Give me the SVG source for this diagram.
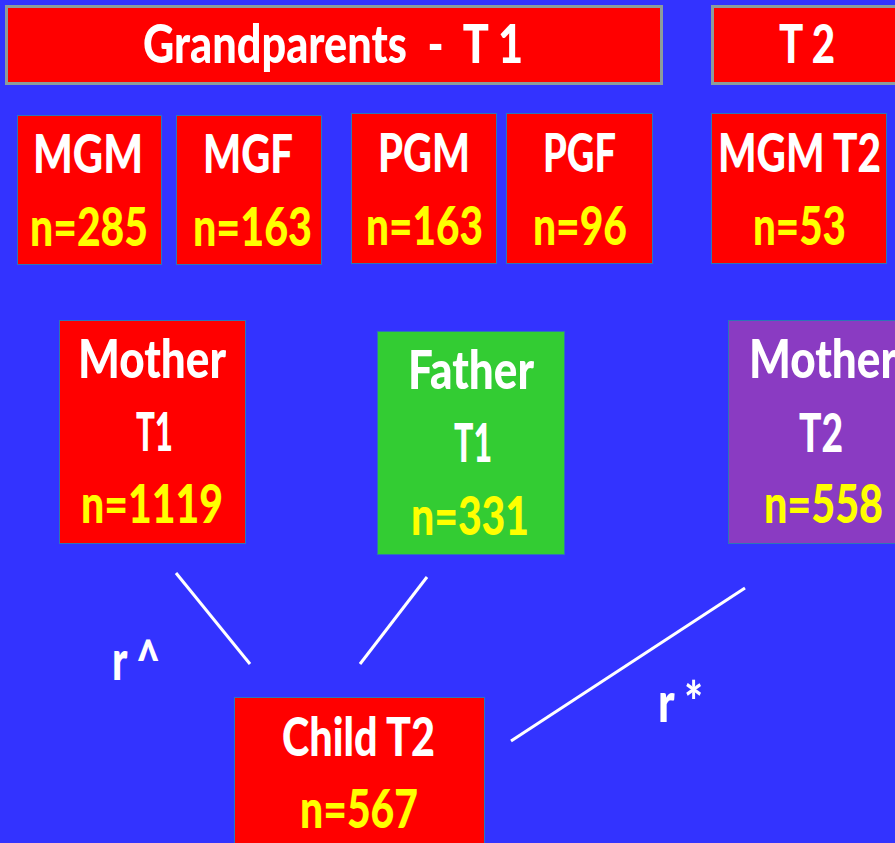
<svg xmlns="http://www.w3.org/2000/svg" width="895" height="843" viewBox="0 0 895 843">
  <style>
    text { font-family: Lato, "Liberation Sans", sans-serif; font-weight: 900; text-anchor: middle; }
    .t { fill: #ffffff; font-size: 54px; }
    .n { fill: #ffff00; font-size: 54px; }
    .r { fill: #ffffff; font-size: 56px; text-anchor: start; }
    .banner { fill: #ff0000; stroke: #8c9c9c; stroke-width: 3; }
    .box { stroke: #2e75b6; stroke-width: 1; }
    .red { fill: #ff0000; }
    .green { fill: #33cc33; }
    .purple { fill: #8a3bc2; }
    .link { stroke: #ffffff; stroke-width: 3; fill: none; }
  </style>

  <rect x="0" y="0" width="895" height="843" fill="#3333ff"/>

  <!-- header banners -->
  <g id="banner-t1">
    <rect class="banner" x="6.5" y="6.5" width="655" height="77"/>
    <text class="t" x="333" y="63" textLength="380" lengthAdjust="spacingAndGlyphs" xml:space="preserve">Grandparents  -  T 1</text>
  </g>
  <g id="banner-t2">
    <rect class="banner" x="712.5" y="6.5" width="200" height="77"/>
    <text class="t" x="807" y="63" textLength="56" lengthAdjust="spacingAndGlyphs">T 2</text>
  </g>

  <!-- grandparents -->
  <g id="mgm">
    <rect class="box red" x="17.5" y="115.5" width="144" height="149"/>
    <text class="t" x="88" y="173" textLength="110" lengthAdjust="spacingAndGlyphs">MGM</text>
    <text class="n" x="89" y="246" textLength="118" lengthAdjust="spacingAndGlyphs">n=285</text>
  </g>
  <g id="mgf">
    <rect class="box red" x="176.5" y="115.5" width="145" height="149"/>
    <text class="t" x="248" y="173" textLength="90" lengthAdjust="spacingAndGlyphs">MGF</text>
    <text class="n" x="252.5" y="246" textLength="119" lengthAdjust="spacingAndGlyphs">n=163</text>
  </g>
  <g id="pgm">
    <rect class="box red" x="351.5" y="113.5" width="145" height="150"/>
    <text class="t" x="424" y="172" textLength="92" lengthAdjust="spacingAndGlyphs">PGM</text>
    <text class="n" x="424.5" y="245" textLength="117" lengthAdjust="spacingAndGlyphs">n=163</text>
  </g>
  <g id="pgf">
    <rect class="box red" x="506.5" y="113.5" width="146" height="150"/>
    <text class="t" x="579.5" y="172" textLength="73" lengthAdjust="spacingAndGlyphs">PGF</text>
    <text class="n" x="580" y="245" textLength="94" lengthAdjust="spacingAndGlyphs">n=96</text>
  </g>
  <g id="mgm-t2">
    <rect class="box red" x="711.5" y="113.5" width="175" height="150"/>
    <text class="t" x="799.5" y="172" textLength="163" lengthAdjust="spacingAndGlyphs">MGM T2</text>
    <text class="n" x="799.5" y="245" textLength="93" lengthAdjust="spacingAndGlyphs">n=53</text>
  </g>

  <!-- parents -->
  <g id="mother-t1">
    <rect class="box red" x="59.5" y="320.5" width="186" height="223"/>
    <text class="t" x="152" y="378" textLength="148" lengthAdjust="spacingAndGlyphs">Mother</text>
    <text class="t" x="154.5" y="451" textLength="37" lengthAdjust="spacingAndGlyphs">T1</text>
    <text class="n" x="152" y="523" textLength="142" lengthAdjust="spacingAndGlyphs">n=1119</text>
  </g>
  <g id="father-t1">
    <rect class="box green" x="377.5" y="331.5" width="187" height="223"/>
    <text class="t" x="471" y="389" textLength="126" lengthAdjust="spacingAndGlyphs">Father</text>
    <text class="t" x="473" y="462" textLength="38" lengthAdjust="spacingAndGlyphs">T1</text>
    <text class="n" x="470" y="535" textLength="118" lengthAdjust="spacingAndGlyphs">n=331</text>
  </g>
  <g id="mother-t2">
    <rect class="box purple" x="728.5" y="320.5" width="190" height="223"/>
    <text class="t" x="823" y="378" textLength="148" lengthAdjust="spacingAndGlyphs">Mother</text>
    <text class="t" x="821" y="452" textLength="44" lengthAdjust="spacingAndGlyphs">T2</text>
    <text class="n" x="823.5" y="523" textLength="119" lengthAdjust="spacingAndGlyphs">n=558</text>
  </g>

  <!-- child -->
  <g id="child-t2">
    <rect class="box red" x="234.5" y="697.5" width="250" height="160"/>
    <text class="t" x="358.5" y="756" textLength="153" lengthAdjust="spacingAndGlyphs">Child T2</text>
    <text class="n" x="359" y="828" textLength="118" lengthAdjust="spacingAndGlyphs">n=567</text>
  </g>

  <!-- connectors -->
  <g id="connectors">
    <line class="link" x1="176" y1="573" x2="250" y2="664"/>
    <line class="link" x1="427" y1="577" x2="360" y2="664"/>
    <line class="link" x1="745" y1="588" x2="511" y2="741"/>
    <text class="r" x="112" y="680" textLength="48" lengthAdjust="spacingAndGlyphs">r ^</text>
    <text class="r" x="658" y="722" textLength="45" lengthAdjust="spacingAndGlyphs">r *</text>
  </g>
</svg>
